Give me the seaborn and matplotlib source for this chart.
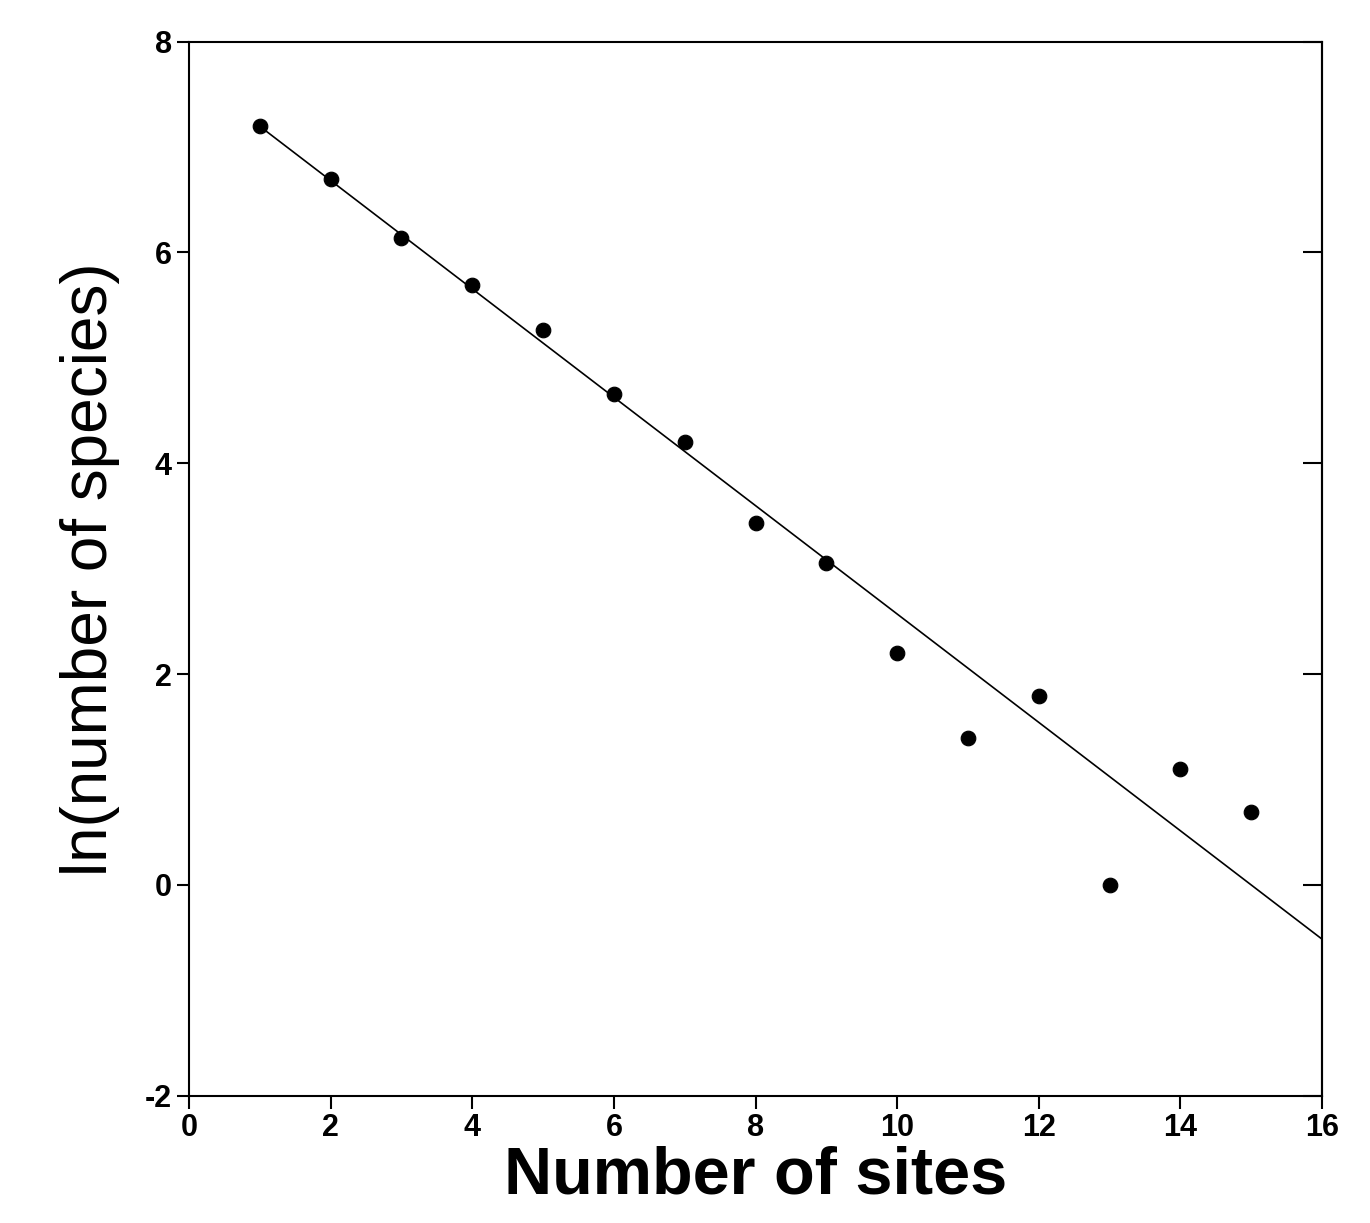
import numpy as np
import pandas as pd
import matplotlib
matplotlib.use("Agg")
import matplotlib.pyplot as plt
import seaborn as sns

# --- data ---
sites = [1, 2, 3, 4, 5, 6, 7, 8, 9, 10, 11, 12, 13, 14, 15]
ln_species = [7.20, 6.70, 6.14, 5.69, 5.26, 4.66, 4.20, 3.43, 3.05, 2.20, 1.39, 1.79, 0.0, 1.10, 0.69]
fit_intercept = 7.71
fit_slope = -0.514
fit_x = [1, 16]

df = pd.DataFrame({"sites": sites, "ln": ln_species})

sns.set_style("white")
plt.rcParams['font.family'] = ['Liberation Sans', 'DejaVu Sans']
plt.rcParams['axes.unicode_minus'] = False

fig, ax = plt.subplots(figsize=(13.7, 12.23), dpi=100)
fig.subplots_adjust(left=0.138, right=0.965, top=0.966, bottom=0.104)

sns.scatterplot(data=df, x="sites", y="ln", ax=ax, color="black", s=110,
                edgecolor="black", marker="o", zorder=3)
fx = np.array(fit_x, dtype=float)
ax.plot(fx, fit_intercept + fit_slope * fx, color="black", linewidth=1.2)

ax.set_xlim(0, 16)
ax.set_ylim(-2, 8)
ax.set_xticks(range(0, 17, 2))
ax.set_yticks(range(-2, 9, 2))
for s in ax.spines.values():
    s.set_color("black")
    s.set_linewidth(1.5)
ax.tick_params(axis="both", direction="out", length=9, width=1.5, labelsize=22,
               color="black", labelcolor="black", left=True, bottom=True)
sec = ax.secondary_yaxis("right")
sec.set_yticks(range(-2, 9, 2))
sec.tick_params(direction="in", length=14, width=1.5, labelright=False, right=True, color="black")
sec.spines["right"].set_linewidth(1.5)
for lab in ax.get_xticklabels() + ax.get_yticklabels():
    lab.set_fontweight("bold")

ax.set_xlabel("Number of sites", fontsize=48, labelpad=2, color="black", fontweight="bold")
ax.set_ylabel("ln(number of species)", fontsize=46, labelpad=18, color="black")

fig.savefig("out.png", dpi=100)
